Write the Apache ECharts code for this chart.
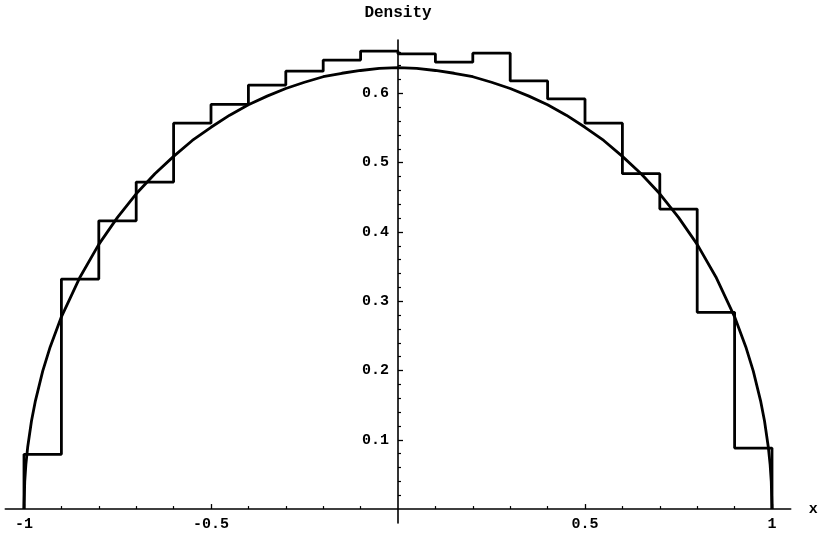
<!DOCTYPE html>
<html>
<head>
<meta charset="utf-8">
<script src="https://cdn.jsdelivr.net/npm/echarts@6/dist/echarts.min.js"></script>
<style>
html,body{margin:0;padding:0;background:#fff;}
#chart{width:818px;height:533px;}
</style>
</head>
<body>
<div id="chart"></div>
<script>
// Histogram bins (edges) and heights
var binEdges = [-1, -0.9, -0.8, -0.7, -0.6, -0.5, -0.4, -0.3, -0.2, -0.1, 0, 0.1, 0.2, 0.3, 0.4, 0.5, 0.6, 0.7, 0.8, 0.9, 1];
var binHeights = [0.079, 0.332, 0.416, 0.472, 0.557, 0.584, 0.612, 0.632, 0.648, 0.661, 0.657, 0.645, 0.658, 0.618, 0.592, 0.557, 0.484, 0.433, 0.284, 0.088];

// Density curve points
var curveX = [-1, -0.998, -0.995, -0.99, -0.98, -0.97, -0.95, -0.93, -0.9, -0.85, -0.8, -0.75, -0.7, -0.65, -0.6, -0.55, -0.5, -0.45, -0.4, -0.35, -0.3, -0.25, -0.2, -0.15, -0.1, -0.05, 0,
              0.05, 0.1, 0.15, 0.2, 0.25, 0.3, 0.35, 0.4, 0.45, 0.5, 0.55, 0.6, 0.65, 0.7, 0.75, 0.8, 0.85, 0.9, 0.93, 0.95, 0.97, 0.98, 0.99, 0.995, 0.998, 1];
var curveY = [0, 0.040, 0.064, 0.090, 0.127, 0.155, 0.199, 0.234, 0.2775, 0.335, 0.382, 0.421, 0.455, 0.484, 0.509, 0.532, 0.551, 0.5685, 0.5835, 0.596, 0.607, 0.616, 0.624, 0.629, 0.633, 0.636, 0.637,
              0.636, 0.633, 0.629, 0.624, 0.616, 0.607, 0.596, 0.5835, 0.5685, 0.551, 0.532, 0.509, 0.484, 0.455, 0.421, 0.382, 0.335, 0.2775, 0.234, 0.199, 0.155, 0.127, 0.090, 0.064, 0.040, 0];

// Tick values
var xMajorTicks = [-1, -0.5, 0.5, 1];
var xMinorTicks = [-0.9, -0.8, -0.7, -0.6, -0.4, -0.3, -0.2, -0.1, 0.1, 0.2, 0.3, 0.4, 0.6, 0.7, 0.8, 0.9];
var yMajorTicks = [0.1, 0.2, 0.3, 0.4, 0.5, 0.6];
var yMinorTicks = [0.02, 0.04, 0.06, 0.08, 0.12, 0.14, 0.16, 0.18, 0.22, 0.24, 0.26, 0.28, 0.32, 0.34, 0.36, 0.38,
                   0.42, 0.44, 0.46, 0.48, 0.52, 0.54, 0.56, 0.58, 0.62, 0.64, 0.66];

var histData = [[binEdges[0], 0]];
for (var i = 0; i < binHeights.length; i++) histData.push([binEdges[i + 1], binHeights[i]]);
histData.push([binEdges[binEdges.length - 1], 0]);

var curveData = curveX.map(function (x, i) { return [x, curveY[i]]; });

var FONT = '"Liberation Mono", "DejaVu Sans Mono", monospace';
var X_MIN = -1.05, X_MAX = 1.05, Y_MIN = -0.02, Y_MAX = 0.677;
var GRID_LEFT = 5.3, GRID_RIGHT = 27.3, GRID_TOP = 40, GRID_BOTTOM = 10.1;
var W = 818, H = 533;
// offsets that put the label-only axes at x = 0 / y = 0
var yZeroOffset = -((0 - X_MIN) / (X_MAX - X_MIN)) * (W - GRID_LEFT - GRID_RIGHT);
var xZeroOffset = -((0 - Y_MIN) / (Y_MAX - Y_MIN)) * (H - GRID_TOP - GRID_BOTTOM);

var chart = echarts.init(document.getElementById('chart'), null, {renderer: 'canvas'});
chart.setOption({
  animation: false,
  backgroundColor: '#fff',
  grid: {left: GRID_LEFT, right: GRID_RIGHT, top: GRID_TOP, bottom: GRID_BOTTOM, containLabel: false, outerBoundsMode: 'none'},
  xAxis: [{
    type: 'value', min: X_MIN, max: X_MAX, position: 'bottom',
    name: 'x', nameLocation: 'end', nameGap: 18,
    nameTextStyle: {color: '#000', fontFamily: FONT, fontSize: 15, fontWeight: 'bold', verticalAlign: 'middle', padding: [2, 0, 0, 0]},
    axisLine: {show: true, onZero: true, lineStyle: {color: '#000', width: 1.6}},
    axisTick: {show: true, inside: true, length: 5, customValues: xMajorTicks, lineStyle: {color: '#000', width: 1.3}},
    axisLabel: {show: false},
    splitLine: {show: false}
  }, {
    type: 'value', min: X_MIN, max: X_MAX, position: 'bottom',
    axisLine: {show: false, onZero: true},
    axisTick: {show: true, inside: true, length: 3, customValues: xMinorTicks, lineStyle: {color: '#000', width: 1.2}},
    axisLabel: {show: false},
    splitLine: {show: false}
  }, {
    type: 'value', min: X_MIN, max: X_MAX, position: 'bottom', offset: xZeroOffset,
    axisLine: {show: false, onZero: false},
    axisTick: {show: false},
    axisLabel: {show: true, customValues: xMajorTicks, margin: 8, color: '#000', fontFamily: FONT, fontSize: 15, fontWeight: 'bold'},
    splitLine: {show: false}
  }],
  yAxis: [{
    type: 'value', min: Y_MIN, max: Y_MAX, position: 'left',
    name: 'Density', nameLocation: 'end', nameGap: 19,
    nameTextStyle: {color: '#000', fontFamily: FONT, fontSize: 16, fontWeight: 'bold', align: 'center'},
    axisLine: {show: true, onZero: true, onZeroAxisIndex: 0, lineStyle: {color: '#000', width: 1.6}},
    axisTick: {show: true, inside: true, length: 5, customValues: yMajorTicks, lineStyle: {color: '#000', width: 1.3}},
    axisLabel: {show: false},
    splitLine: {show: false}
  }, {
    type: 'value', min: Y_MIN, max: Y_MAX, position: 'left',
    axisLine: {show: false, onZero: true, onZeroAxisIndex: 0},
    axisTick: {show: true, inside: true, length: 3, customValues: yMinorTicks, lineStyle: {color: '#000', width: 1.2}},
    axisLabel: {show: false},
    splitLine: {show: false}
  }, {
    type: 'value', min: Y_MIN, max: Y_MAX, position: 'left', offset: yZeroOffset,
    axisLine: {show: false, onZero: false},
    axisTick: {show: false},
    axisLabel: {show: true, customValues: yMajorTicks, margin: 9, color: '#000', fontFamily: FONT, fontSize: 15, fontWeight: 'bold',
      formatter: function (v) { return v.toFixed(1); }},
    splitLine: {show: false}
  }],
  series: [{
    type: 'line', name: 'histogram', xAxisIndex: 0, yAxisIndex: 0,
    data: histData, step: 'start', symbol: 'none',
    lineStyle: {color: '#000', width: 2.8}
  }, {
    type: 'line', name: 'density', xAxisIndex: 0, yAxisIndex: 0,
    data: curveData, smooth: false, symbol: 'none',
    lineStyle: {color: '#000', width: 2.8}
  }]
});
</script>
</body>
</html>
